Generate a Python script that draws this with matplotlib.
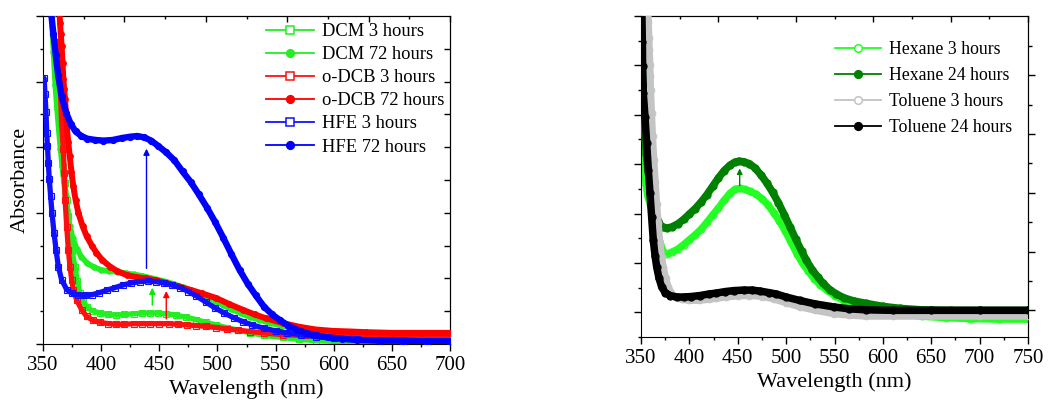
import numpy as np
import matplotlib
matplotlib.use("Agg")
import matplotlib.pyplot as plt
from matplotlib.lines import Line2D
from matplotlib.ticker import MultipleLocator

plt.rcParams['font.family'] = ['Liberation Serif', 'DejaVu Serif']

# ---------------- left panel data (DCM / o-DCB / HFE) ----------------
dcm3_wl = [363, 364.5, 366, 367.5, 369, 370.4, 371.7, 373, 375, 377.5, 379.5, 381.8, 384.5,
           387.6, 392, 399, 406, 413, 420, 428, 435, 442, 449, 456, 464, 473, 482, 490, 499,
           508, 518, 528, 540, 556, 570, 585, 600, 630, 660, 700]
dcm3_abs = [4.6, 3.95, 3.3, 2.71, 2.45, 2.2, 1.95, 1.69, 1.42, 1.18, 0.96, 0.77, 0.65,
            0.57, 0.51, 0.47, 0.45, 0.44, 0.45, 0.46, 0.47, 0.47, 0.47, 0.46, 0.44, 0.41, 0.37, 0.33, 0.29,
            0.25, 0.21, 0.17, 0.13, 0.10, 0.07, 0.05, 0.04, 0.03, 0.03, 0.03]

dcm72_wl = [357.5, 359, 360.5, 362, 363.5, 365, 366.5, 368, 369.5, 371, 373, 375.5, 379, 383,
            388, 394, 400, 407, 414, 421, 428, 435, 442, 449, 456, 463, 470, 477, 484, 491,
            498, 505, 512, 520, 528, 536, 545, 555, 565, 575, 590, 605, 620, 640, 660, 680, 700]
dcm72_abs = [5.0, 4.45, 3.95, 3.6, 3.28, 2.98, 2.72, 2.47, 2.25, 2.04, 1.80, 1.62, 1.45, 1.33,
             1.23, 1.17, 1.13, 1.11, 1.10, 1.08, 1.06, 1.04, 1.01, 0.98, 0.95, 0.91, 0.87, 0.82, 0.78, 0.72,
             0.66, 0.59, 0.53, 0.47, 0.41, 0.37, 0.32, 0.28, 0.25, 0.23, 0.20, 0.18, 0.17, 0.16, 0.15, 0.15, 0.14]

odcb3_wl = [363.5, 364.8, 366, 367.5, 368.3, 369, 370.4, 371.8, 373.2, 374.7, 376, 379, 383.3,
            387.6, 393, 399, 406, 413, 420, 428, 435, 442, 450, 458, 466, 474, 482, 490, 499,
            508, 518, 528, 540, 556, 575, 600, 630, 660, 700]
odcb3_abs = [4.6, 3.95, 3.37, 2.97, 2.61, 2.2, 1.79, 1.44, 1.18, 0.98, 0.83, 0.67, 0.52,
             0.42, 0.36, 0.33, 0.31, 0.30, 0.30, 0.31, 0.31, 0.31, 0.31, 0.31, 0.30, 0.29, 0.28, 0.27, 0.25,
             0.23, 0.21, 0.19, 0.17, 0.14, 0.13, 0.12, 0.12, 0.12, 0.12]

odcb72_wl = [364.2, 364.6, 365.3, 366, 366.8, 367.5, 368.2, 369, 370.4, 371.7, 373, 374.5, 376,
             378, 380.4, 384, 387.6, 392, 396, 401, 407.6, 414, 422, 430, 439, 447, 456, 466,
             476, 487, 499, 510, 522, 532, 542, 556, 571, 585, 599, 615, 628, 650, 675, 700]
odcb72_abs = [5.05, 4.9, 4.72, 4.55, 4.28, 4.04, 3.88, 3.73, 3.32, 3.08, 2.86, 2.62, 2.41,
              2.2, 2.0, 1.80, 1.64, 1.50, 1.39, 1.28, 1.18, 1.11, 1.05, 1.02, 1.00, 0.97, 0.93, 0.88,
              0.83, 0.77, 0.70, 0.61, 0.52, 0.45, 0.39, 0.32, 0.26, 0.22, 0.20, 0.19, 0.18, 0.17, 0.17, 0.17]

hfe3_wl = [351, 351.7, 352.6, 353.2, 353.8, 354.6, 355.4, 356.6, 357.7, 359.5, 361.2, 363.2, 366,
           370.4, 375, 380, 386, 392, 398, 405, 412, 419, 426, 433, 440, 447, 454, 461, 468,
           475, 482, 490, 498, 506, 514, 522, 530, 540, 550, 560, 572, 585, 600, 620, 640, 660, 680, 700]
hfe3_abs = [4.05, 3.81, 3.53, 3.22, 3.02, 2.76, 2.51, 2.25, 2.00, 1.69, 1.44, 1.18, 0.98,
            0.83, 0.77, 0.75, 0.74, 0.75, 0.78, 0.82, 0.86, 0.90, 0.93, 0.95, 0.96, 0.95, 0.93, 0.90, 0.86,
            0.80, 0.73, 0.64, 0.55, 0.47, 0.40, 0.34, 0.29, 0.24, 0.20, 0.17, 0.14, 0.11, 0.09, 0.07, 0.06, 0.05, 0.05, 0.05]

hfe72_wl = [357, 359, 361, 363, 366, 370, 374, 378, 383, 388, 395, 402, 410, 418, 425, 431, 437,
            443, 449, 456, 463, 470, 477, 484, 491, 498, 505, 512, 519, 526, 533, 540, 547, 554,
            561, 568, 576, 585, 595, 607, 620, 640, 660, 680, 700]
hfe72_abs = [5.05, 4.72, 4.40, 4.10, 3.78, 3.52, 3.35, 3.24, 3.17, 3.13, 3.11, 3.10, 3.11, 3.14, 3.16, 3.17, 3.15,
             3.10, 3.02, 2.92, 2.80, 2.63, 2.47, 2.28, 2.08, 1.86, 1.62, 1.37, 1.13, 0.92, 0.74, 0.57, 0.45, 0.36,
             0.28, 0.22, 0.17, 0.13, 0.10, 0.08, 0.06, 0.05, 0.05, 0.04, 0.04]

# arrows (wavelength, start, end)
left_arrows = [(439, 1.11, 3.02, '#0000ff'), (444, 0.55, 0.90, '#00ee00'), (456, 0.34, 0.85, '#ff0000')]

# ---------------- right panel data (Hexane / Toluene) ----------------
hex3_wl = [351, 351.7, 352.5, 353.5, 355, 357, 360, 363, 366, 369, 373, 376.5, 382, 388, 394, 400,
           406, 412, 418, 424, 430, 436, 442, 447, 452, 457, 463, 469, 475, 481, 487, 493, 499,
           505, 511, 517, 523, 529, 535, 542, 550, 559, 570, 583, 600, 618, 640, 665, 690, 720, 750]
hex3_abs = [4.6, 3.9, 3.35, 2.95, 2.6, 2.35, 2.15, 1.98, 1.72, 1.45, 1.23, 1.18, 1.22, 1.28, 1.37, 1.47,
            1.57, 1.68, 1.82, 1.97, 2.11, 2.27, 2.41, 2.49, 2.51, 2.49, 2.45, 2.39, 2.30, 2.18, 2.02, 1.85, 1.65,
            1.42, 1.19, 0.99, 0.83, 0.68, 0.56, 0.45, 0.34, 0.24, 0.16, 0.11, 0.04, -0.03, -0.08, -0.11, -0.13, -0.14, -0.14]

hex24_wl = [350.5, 351.2, 352, 353, 354, 355.5, 357, 359.5, 362, 364, 366, 368, 370, 373, 376.5,
            382, 388, 394, 400, 406, 412, 418, 424, 430, 436, 442, 447, 451, 456, 462, 468, 474,
            480, 486, 492, 498, 504, 510, 516, 521, 527, 533, 538, 545, 552, 560, 570, 583, 600,
            618, 640, 670, 700, 750]
hex24_abs = [6.1, 5.3, 4.6, 4.05, 3.6, 3.2, 2.9, 2.55, 2.25, 2.08, 1.95, 1.84, 1.77, 1.72, 1.70,
             1.73, 1.79, 1.88, 1.99, 2.10, 2.23, 2.38, 2.55, 2.72, 2.87, 2.98, 3.04, 3.06, 3.05, 3.01, 2.92, 2.78,
             2.62, 2.43, 2.22, 1.98, 1.73, 1.48, 1.24, 1.05, 0.86, 0.71, 0.59, 0.46, 0.37, 0.29, 0.23, 0.18, 0.12,
             0.08, 0.05, 0.04, 0.04, 0.04]

tol3_wl = [356.8, 357.6, 358.3, 358.6, 359.3, 359.6, 360, 361, 362, 363.4, 364.8, 366.2, 367.9, 369.6,
           371.3, 373, 375.5, 378.2, 381.5, 385, 392, 400, 410, 420, 428, 438, 450, 462, 475, 487,
           500, 514, 530, 549, 565, 583, 610, 650, 700, 750]
tol3_abs = [6.3, 5.87, 5.55, 5.31, 5.01, 4.78, 4.50, 4.03, 3.56, 3.08, 2.64, 2.20, 1.80, 1.39,
            1.13, 0.92, 0.70, 0.51, 0.39, 0.31, 0.26, 0.24, 0.24, 0.26, 0.28, 0.31, 0.33, 0.34, 0.32, 0.27,
            0.19, 0.11, 0.04, -0.03, -0.06, -0.08, -0.08, -0.08, -0.08, -0.08]

tol24_wl = [350.8, 351.4, 351.7, 352.4, 354.1, 355.9, 357.6, 359.3, 361, 362.7, 364.5, 366.2, 368.5,
            371.4, 375, 380, 387, 394, 402, 411, 420, 428, 437, 446, 456, 465, 473, 482, 490, 500,
            514, 530, 549, 565, 583, 610, 650, 700, 750]
tol24_abs = [6.2, 5.48, 4.98, 4.44, 3.96, 3.42, 2.88, 2.41, 1.93, 1.46, 1.15, 0.92, 0.70,
             0.51, 0.40, 0.34, 0.31, 0.31, 0.32, 0.34, 0.37, 0.39, 0.42, 0.44, 0.45, 0.45, 0.43, 0.40, 0.37, 0.31,
             0.24, 0.17, 0.11, 0.07, 0.05, 0.04, 0.04, 0.04, 0.04]

right_arrows = [(452, 2.51, 2.97, '#008000')]

fig = plt.figure(figsize=(10.48, 4.07), dpi=100)
ax1 = fig.add_axes([43 / 1048, 1 - 344 / 407, 407 / 1048, 328 / 407])
ax2 = fig.add_axes([641 / 1048, 1 - 337 / 407, 387 / 1048, 321 / 407])


def draw(ax, wl, ab, color, marker, filled, lw, label, z):
    # thick band like the densely packed symbols of the original
    ax.plot(wl, ab, color=color, lw=lw, solid_capstyle='round', solid_joinstyle='round', zorder=z)
    ax.plot(wl, ab, ls='none', marker=marker, ms=lw * 0.95, mec=color, mew=0.8,
            mfc=color if filled else 'none', zorder=z + 0.5)
    return Line2D([], [], color=color, lw=1.3, marker=marker, ms=5.5, mec=color, mew=1.1,
                  mfc=color if filled else 'white', label=label)


# ---------------- left panel ----------------
h = []
h.append(draw(ax1, dcm3_wl, dcm3_abs, '#22ee22', 's', False, 3.8, 'DCM 3 hours', 2))
h.append(draw(ax1, dcm72_wl, dcm72_abs, '#22ee22', 'o', True, 4.0, 'DCM 72 hours', 3))
h.append(draw(ax1, odcb3_wl, odcb3_abs, '#ff1010', 's', False, 3.8, 'o-DCB 3 hours', 4))
h.append(draw(ax1, odcb72_wl, odcb72_abs, '#ff0000', 'o', True, 4.3, 'o-DCB 72 hours', 5))
h.append(draw(ax1, hfe3_wl, hfe3_abs, '#1010ff', 's', False, 3.8, 'HFE 3 hours', 6))
h.append(draw(ax1, hfe72_wl, hfe72_abs, '#0000ff', 'o', True, 4.6, 'HFE 72 hours', 7))

for x, y0, y1, c in left_arrows:
    ax1.annotate('', xy=(x, y1), xytext=(x, y0),
                 arrowprops=dict(arrowstyle='-|>', color=c, lw=1.0, mutation_scale=9), zorder=10)

ax1.set_xlim(350, 700)
ax1.set_ylim(0, 5)
ax1.xaxis.set_major_locator(MultipleLocator(50))
ax1.xaxis.set_minor_locator(MultipleLocator(25))
ax1.yaxis.set_major_locator(MultipleLocator(1))
ax1.yaxis.set_minor_locator(MultipleLocator(0.5))
ax1.set_yticklabels([])
ax1.tick_params(axis='both', which='major', direction='out', length=5, width=1, labelsize=15,
                top=False, right=False)
ax1.tick_params(axis='both', which='minor', direction='out', length=2.5, width=1, top=False, right=False)
ax1.set_xlabel('Wavelength (nm)', fontsize=16, labelpad=3)
ax1.set_ylabel('Absorbance', fontsize=16, labelpad=1)

top1 = ax1.secondary_xaxis('top')
top1.set_xticks([420, 490, 560, 630, 700])
top1.set_xticks([385, 455, 525, 595, 665], minor=True)
top1.tick_params(which='major', direction='in', length=4, width=1, labeltop=False)
top1.tick_params(which='minor', direction='in', length=2.5, width=1)
right1 = ax1.secondary_yaxis('right')
right1.set_yticks(np.arange(0.5, 5.0, 0.5))
right1.tick_params(direction='in', length=4, width=1, labelright=False)

ax1.legend(handles=h, loc='upper right', bbox_to_anchor=(1.017, 1.018), frameon=False, fontsize=13.3,
           handlelength=2.6, handletextpad=0.4, labelspacing=0.33, borderaxespad=0.3)

# ---------------- right panel ----------------
g = []
g.append(draw(ax2, hex3_wl, hex3_abs, '#22ff22', 'o', False, 5.2, 'Hexane 3 hours', 2))
g.append(draw(ax2, hex24_wl, hex24_abs, '#008000', 'o', True, 5.4, 'Hexane 24 hours', 3))
g.append(draw(ax2, tol3_wl, tol3_abs, '#c4c4c4', 'o', False, 5.0, 'Toluene 3 hours', 4))
g.append(draw(ax2, tol24_wl, tol24_abs, '#000000', 'o', True, 5.4, 'Toluene 24 hours', 5))

for x, y0, y1, c in right_arrows:
    ax2.annotate('', xy=(x, y1), xytext=(x, y0),
                 arrowprops=dict(arrowstyle='-|>', color=c, lw=1.0, mutation_scale=8), zorder=10)

ax2.set_xlim(350, 750)
ax2.set_ylim(-0.5, 6.0)
ax2.xaxis.set_major_locator(MultipleLocator(50))
ax2.xaxis.set_minor_locator(MultipleLocator(25))
ax2.yaxis.set_major_locator(MultipleLocator(1))
ax2.yaxis.set_minor_locator(MultipleLocator(0.5))
ax2.set_yticklabels([])
ax2.tick_params(axis='both', which='major', direction='out', length=5, width=1, labelsize=15,
                top=False, right=False)
ax2.tick_params(axis='both', which='minor', direction='out', length=2.5, width=1, top=False, right=False)
ax2.set_xlabel('Wavelength (nm)', fontsize=16, labelpad=3)

top2 = ax2.secondary_xaxis('top')
top2.set_xticks([430, 510, 590, 670, 750])
top2.set_xticks([390, 470, 550, 630, 710], minor=True)
top2.tick_params(which='major', direction='in', length=4, width=1, labeltop=False)
top2.tick_params(which='minor', direction='in', length=2.5, width=1)
right2 = ax2.secondary_yaxis('right')
right2.set_yticks([0.04, 1.23, 2.42, 3.61, 4.80])
right2.set_yticks([0.635, 1.825, 3.015, 4.205, 5.395], minor=True)
right2.tick_params(which='major', direction='out', length=5, width=1, labelright=False)
right2.tick_params(which='minor', direction='out', length=3, width=1)

ax2.legend(handles=g, loc='upper right', bbox_to_anchor=(0.99, 0.96), frameon=False, fontsize=12.8,
           handlelength=2.6, handletextpad=0.4, labelspacing=0.5, borderaxespad=0.3)

fig.savefig('out.png', dpi=100)
